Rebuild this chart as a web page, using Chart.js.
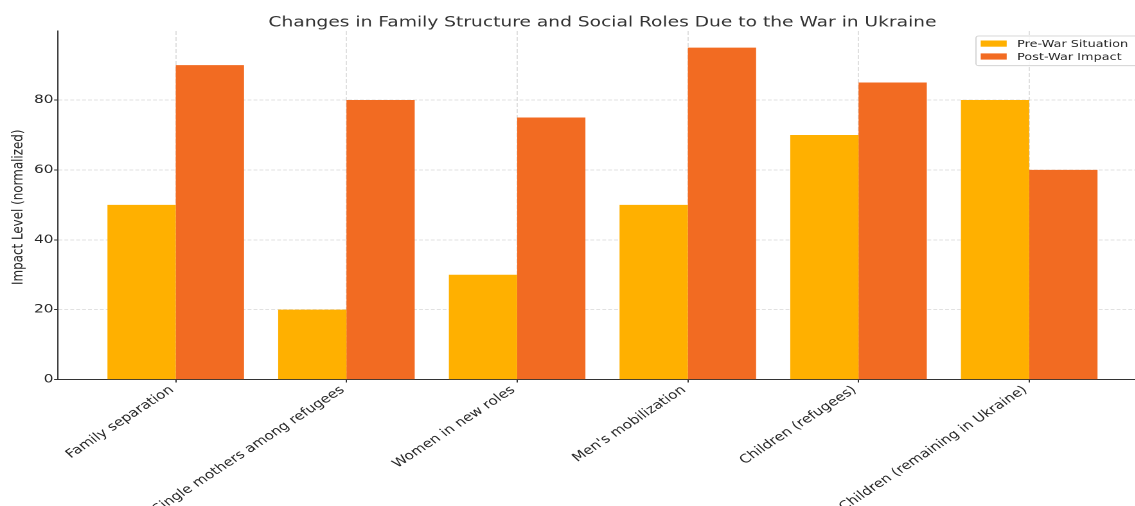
<!DOCTYPE html>
<html>
<head>
<meta charset="utf-8">
<script src="https://cdn.jsdelivr.net/npm/chart.js@4/dist/chart.umd.min.js"></script>
<style>
  html, body { margin: 0; padding: 0; background: #ffffff; overflow: hidden; width: 1135px; height: 506px; }
  #wrap { position: absolute; left: 0; top: 0; width: 905px; height: 506px; transform: scaleX(1.285); transform-origin: 0 0; }
</style>
</head>
<body>
<div id="wrap"><canvas id="c" width="905" height="506"></canvas></div>
<script>
const chartTitle = 'Changes in Family Structure and Social Roles Due to the War in Ukraine';
const yAxisTitle = 'Impact Level (normalized)';
const categories = [
  'Family separation',
  'Single mothers among refugees',
  'Women in new roles',
  "Men's mobilization",
  'Children (refugees)',
  'Children (remaining in Ukraine)'
];
const seriesNames = ['Pre-War Situation', 'Post-War Impact'];
const preWar = [50, 20, 30, 50, 70, 80];
const postWar = [90, 80, 75, 95, 85, 60];
const yTicks = [0, 20, 40, 60, 80];
const yMax = 99.75;

const colors = ['#FFB000', '#F26B22'];
const FONT = "'DejaVu Sans', 'Liberation Sans', sans-serif";
const TXT = '#262626';

const toPoints = arr => arr.map((v, i) => ({ x: i, y: v }));

const overlay = {
  id: 'overlay',
  afterDraw(chart) {
    const ctx = chart.ctx;
    const ca = chart.chartArea;
    ctx.save();
    // title
    ctx.fillStyle = '#333333';
    ctx.font = '14.5px ' + FONT;
    ctx.textAlign = 'center';
    ctx.textBaseline = 'alphabetic';
    ctx.fillText(chartTitle, (ca.left + ca.right) / 2, 26.5);
    // y axis title
    ctx.save();
    ctx.translate(14.3, (ca.top + ca.bottom) / 2 + 2);
    ctx.rotate(-Math.PI / 2);
    ctx.fillStyle = TXT;
    ctx.font = '11.9px ' + FONT;
    ctx.textAlign = 'center';
    ctx.textBaseline = 'middle';
    ctx.fillText(yAxisTitle, 0, 0);
    ctx.restore();
    // legend
    const bx = 759.5, by = 36, bw = ca.right - 5 - 759.5, bh = 29.7;
    ctx.beginPath();
    ctx.roundRect(bx, by, bw, bh, 2);
    ctx.fillStyle = 'rgba(255,255,255,0.85)';
    ctx.fill();
    ctx.lineWidth = 0.8;
    ctx.strokeStyle = '#cccccc';
    ctx.stroke();
    ctx.font = '10px ' + FONT;
    ctx.textAlign = 'left';
    ctx.textBaseline = 'alphabetic';
    chart.data.datasets.forEach((ds, i) => {
      const cy = 43.5 + i * 12.9;
      ctx.fillStyle = ds.backgroundColor;
      ctx.fillRect(763.2, cy - 3, 20.2, 6.2);
      ctx.fillStyle = TXT;
      ctx.fillText(ds.label, 791.5, cy + 3.4);
    });
    ctx.restore();
  }
};

new Chart(document.getElementById('c'), {
  type: 'bar',
  data: {
    datasets: [
      { label: seriesNames[0], data: toPoints(preWar), backgroundColor: colors[0], borderWidth: 0 },
      { label: seriesNames[1], data: toPoints(postWar), backgroundColor: colors[1], borderWidth: 0 }
    ]
  },
  options: {
    responsive: false,
    animation: false,
    devicePixelRatio: 2,
    layout: { padding: { top: 31, right: 12.4, left: 0, bottom: 0 } },
    datasets: { bar: { categoryPercentage: 0.8, barPercentage: 1.0 } },
    plugins: { legend: { display: false }, title: { display: false }, tooltip: { enabled: false } },
    scales: {
      x: {
        type: 'linear',
        min: -0.69,
        max: 5.69,
        offset: false,
        afterBuildTicks: s => { s.ticks = categories.map((c, i) => ({ value: i })); },
        afterFit: s => { s.height = 126.5; s.paddingLeft = 0; s.paddingRight = 0; },
        grid: { offset: false, color: '#d8d8d8', lineWidth: 0.8, tickLength: 3, tickColor: '#333333', tickWidth: 1, tickBorderDash: [] },
        border: { display: true, color: '#333333', width: 1, dash: [4, 2] },
        ticks: {
          autoSkip: false,
          minRotation: 40,
          maxRotation: 40,
          padding: 0.5,
          labelOffset: -3,
          color: TXT,
          font: { family: FONT, size: 11.9 },
          callback: v => categories[Math.round(v)]
        }
      },
      y: {
        min: 0,
        max: yMax,
        afterBuildTicks: s => { s.ticks = yTicks.map(v => ({ value: v })); },
        afterFit: s => { s.width = 45.1; s.paddingTop = 0; s.paddingBottom = 0; },
        grid: { color: '#d8d8d8', lineWidth: 0.8, tickLength: 3, tickColor: '#333333', tickWidth: 1, tickBorderDash: [] },
        border: { display: true, color: '#333333', width: 1, dash: [3, 1.6] },
        ticks: { padding: 0.5, color: TXT, font: { family: FONT, size: 11.9 } }
      }
    }
  },
  plugins: [overlay]
});
</script>
</body>
</html>
